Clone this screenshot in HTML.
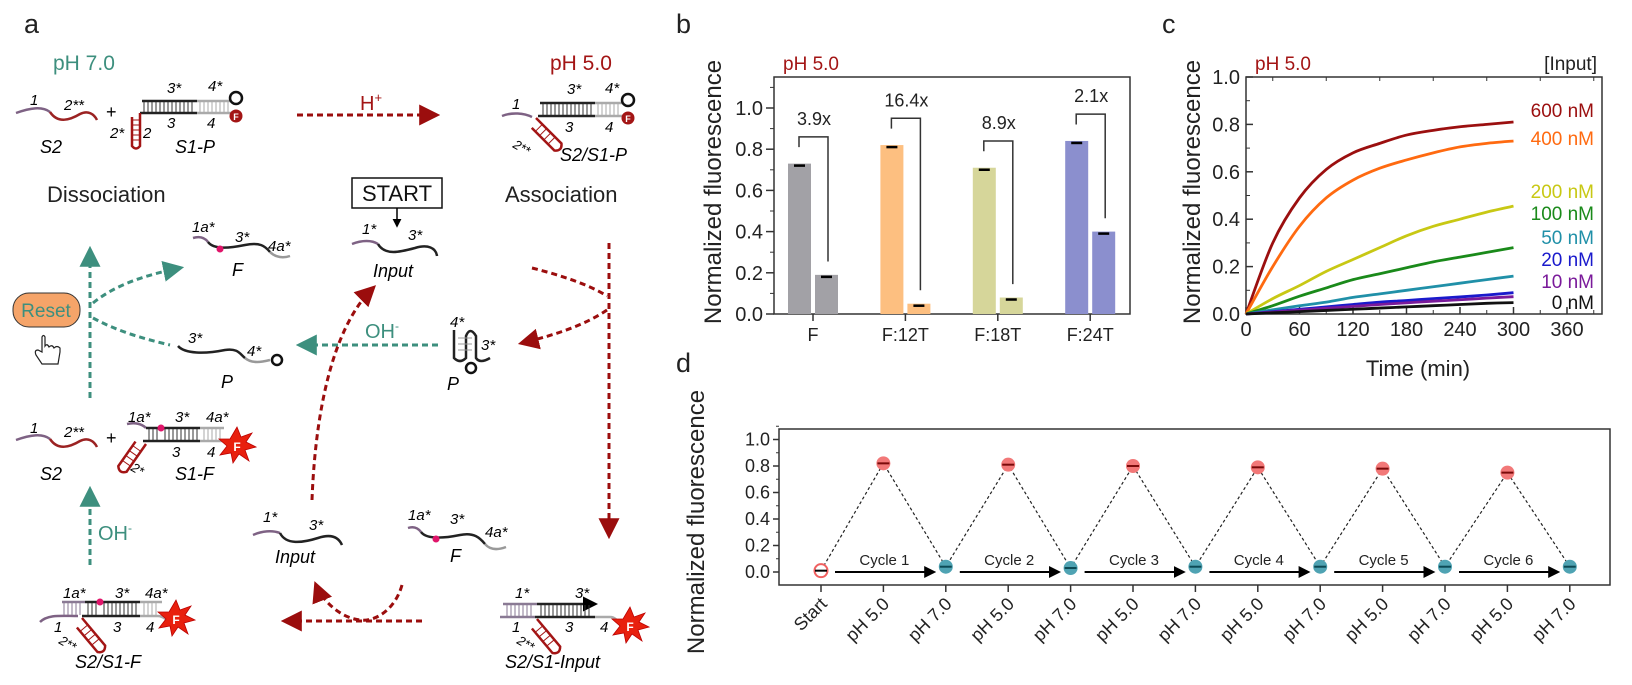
<!DOCTYPE html>
<html><head><meta charset="utf-8">
<style>
html,body{margin:0;padding:0;background:#fff;}
svg{display:block;font-family:"Liberation Sans",sans-serif;}
.it{font-style:italic;}
</style></head>
<body>
<svg id="fig" width="1632" height="685" viewBox="0 0 1632 685" xmlns="http://www.w3.org/2000/svg">
<defs>
<marker id="arR" viewBox="0 0 10 10" refX="8" refY="5" markerWidth="7" markerHeight="7" orient="auto"><path d="M0,0 L10,5 L0,10 z" fill="#9b0d0d"/></marker>
<marker id="arT" viewBox="0 0 10 10" refX="8" refY="5" markerWidth="7" markerHeight="7" orient="auto"><path d="M0,0 L10,5 L0,10 z" fill="#3d8f7e"/></marker>
<marker id="arK" viewBox="0 0 10 10" refX="8" refY="5" markerWidth="6" markerHeight="6" orient="auto"><path d="M0,0 L10,5 L0,10 z" fill="#000"/></marker>
</defs>

<!-- ================= PANEL A ================= -->
<g id="panel-a">
<text x="24" y="33" font-size="27" fill="#222">a</text>
<text x="53" y="70" font-size="21" fill="#3d8f7e">pH 7.0</text>
<text x="550" y="70" font-size="21" fill="#a31515">pH 5.0</text>

<g>
<path d="M16,113 C30,108 42,106 50,112" stroke="#7e6284" stroke-width="2.5" fill="none"/>
<path d="M50,112 C58,124 70,120 80,114 C88,110 94,114 97,120" stroke="#9b2222" stroke-width="2.5" fill="none"/>
<text x="30" y="105" font-size="15" class="it">1</text>
<text x="64" y="110" font-size="15" class="it">2**</text>
<text x="40" y="153" font-size="18" class="it">S2</text>
</g>
<text x="106" y="118" font-size="18">+</text>
<g>
<line x1="142" y1="101" x2="197" y2="101" stroke="#222" stroke-width="2.5"/>
<line x1="197" y1="101" x2="232" y2="101" stroke="#aaa" stroke-width="2.5"/>
<line x1="140" y1="113" x2="197" y2="113" stroke="#222" stroke-width="2.5"/>
<line x1="197" y1="113" x2="232" y2="113" stroke="#aaa" stroke-width="2.5"/>
<path d="M144,102 L144,112 M148,102 L148,112 M152,102 L152,112 M156,102 L156,112 M160,102 L160,112 M164,102 L164,112 M168,102 L168,112 M172,102 L172,112 M176,102 L176,112 M180,102 L180,112 M184,102 L184,112 M188,102 L188,112 M192,102 L192,112" stroke="#333" stroke-width="1"/>
<path d="M200,102 L200,112 M204,102 L204,112 M208,102 L208,112 M212,102 L212,112 M216,102 L216,112 M220,102 L220,112 M224,102 L224,112 M228,102 L228,112" stroke="#aaa" stroke-width="1"/>
<path d="M140,113 L140,146 Q136,151 132,146 L132,117" stroke="#a31515" stroke-width="2.5" fill="none"/>
<path d="M132,120 L140,120 M132,125 L140,125 M132,130 L140,130 M132,135 L140,135 M132,140 L140,140" stroke="#a31515" stroke-width="1"/>
<circle cx="236" cy="98" r="6" fill="#fff" stroke="#111" stroke-width="2.5"/>
<circle cx="236" cy="116" r="6.5" fill="#a31515"/>
<text x="236" y="120" font-size="9" fill="#fff" text-anchor="middle" font-weight="bold">F</text>
<text x="167" y="93" font-size="15" class="it">3*</text>
<text x="208" y="91" font-size="15" class="it">4*</text>
<text x="110" y="138" font-size="15" class="it">2*</text>
<text x="143" y="138" font-size="15" class="it">2</text>
<text x="167" y="128" font-size="15" class="it">3</text>
<text x="207" y="128" font-size="15" class="it">4</text>
<text x="175" y="153" font-size="18" class="it">S1-P</text>
</g>
<line x1="297" y1="115" x2="436" y2="115" stroke="#9b0d0d" stroke-width="3" stroke-dasharray="6,4" marker-end="url(#arR)"/>
<text x="360" y="110" font-size="20" fill="#a31515">H<tspan font-size="13" dy="-8">+</tspan></text>
<g>
<path d="M502,116 C512,112 524,113 532,117" stroke="#7e6284" stroke-width="2.5" fill="none"/>
<line x1="540" y1="103" x2="595" y2="103" stroke="#222" stroke-width="2.5"/>
<line x1="595" y1="103" x2="625" y2="103" stroke="#aaa" stroke-width="2.5"/>
<line x1="538" y1="116" x2="595" y2="116" stroke="#222" stroke-width="2.5"/>
<line x1="595" y1="116" x2="625" y2="116" stroke="#aaa" stroke-width="2.5"/>
<path d="M543,104 L543,115 M547,104 L547,115 M551,104 L551,115 M555,104 L555,115 M559,104 L559,115 M563,104 L563,115 M567,104 L567,115 M571,104 L571,115 M575,104 L575,115 M579,104 L579,115 M583,104 L583,115 M587,104 L587,115 M591,104 L591,115" stroke="#333" stroke-width="1"/>
<path d="M598,104 L598,115 M602,104 L602,115 M606,104 L606,115 M610,104 L610,115 M614,104 L614,115 M618,104 L618,115" stroke="#aaa" stroke-width="1"/>
<g transform="translate(536,118) rotate(-45)">
<path d="M0,0 L0,36 Q-5,42 -10,36 L-10,4" stroke="#a31515" stroke-width="2.5" fill="none"/>
<path d="M-10,9 L0,9 M-10,15 L0,15 M-10,21 L0,21 M-10,27 L0,27" stroke="#a31515" stroke-width="1"/>
</g>
<circle cx="628" cy="100" r="6" fill="#fff" stroke="#111" stroke-width="2.5"/>
<circle cx="628" cy="118" r="6.5" fill="#a31515"/>
<text x="628" y="122" font-size="9" fill="#fff" text-anchor="middle" font-weight="bold">F</text>
<text x="567" y="94" font-size="15" class="it">3*</text>
<text x="605" y="93" font-size="15" class="it">4*</text>
<text x="512" y="109" font-size="15" class="it">1</text>
<text x="565" y="132" font-size="15" class="it">3</text>
<text x="605" y="132" font-size="15" class="it">4</text>
<text x="512" y="147" font-size="13" class="it" transform="rotate(30 512 147)">2**</text>
<text x="560" y="161" font-size="18" class="it">S2/S1-P</text>
</g>
<text x="47" y="202" font-size="22" fill="#222">Dissociation</text>
<text x="505" y="202" font-size="22" fill="#222">Association</text>
<g>
<rect x="352" y="178" width="90" height="30" fill="#fff" stroke="#111" stroke-width="1.5"/>
<text x="397" y="201" font-size="22" text-anchor="middle" fill="#111">START</text>
</g>
<line x1="397" y1="208" x2="397" y2="226" stroke="#000" stroke-width="1.5" marker-end="url(#arK)"/>
<g>
<path d="M352,244 C362,240 372,240 378,244" stroke="#7e6284" stroke-width="2.5" fill="none"/>
<path d="M378,244 C385,256 400,252 415,248 C428,244 436,248 437,256" stroke="#222" stroke-width="2.5" fill="none"/>
<text x="362" y="234" font-size="15" class="it">1*</text>
<text x="408" y="240" font-size="15" class="it">3*</text>
<text x="373" y="277" font-size="18" class="it">Input</text>
</g>
<g>
<path d="M193,238 C200,236 205,238 208,242" stroke="#7e6284" stroke-width="2.5" fill="none"/>
<path d="M208,242 C214,250 230,248 245,245 C260,242 265,246 270,252" stroke="#222" stroke-width="2.5" fill="none"/>
<path d="M270,252 C276,258 284,258 290,256" stroke="#999" stroke-width="2.5" fill="none"/>
<circle cx="220" cy="249" r="3.5" fill="#e0156a"/>
<text x="192" y="232" font-size="15" class="it">1a*</text>
<text x="235" y="242" font-size="15" class="it">3*</text>
<text x="268" y="251" font-size="15" class="it">4a*</text>
<text x="232" y="276" font-size="18" class="it">F</text>
</g>
<g>
<rect x="13" y="293" width="67" height="34" rx="16" fill="#f5a469" stroke="#333" stroke-width="1"/>
<text x="46" y="317" font-size="19" text-anchor="middle" fill="#3d8f7e">Reset</text>
</g>
<g fill="#fff" stroke="#222" stroke-width="1.2">
<path d="M42,337 L42,352 L38,350 Q34,350 36,355 L42,364 L58,364 L60,352 L60,348 Q57,345 54,348 Q52,344 49,347 Q47,343 45,346 L45,337 Q43.5,334 42,337 Z"/>
</g>
<line x1="90" y1="398" x2="90" y2="250" stroke="#3d8f7e" stroke-width="3" stroke-dasharray="6,4" marker-end="url(#arT)"/>
<path d="M93,303 C115,285 145,275 180,268" stroke="#3d8f7e" stroke-width="3" stroke-dasharray="6,4" fill="none" marker-end="url(#arT)"/>
<path d="M93,318 C115,330 140,338 170,345" stroke="#3d8f7e" stroke-width="3" stroke-dasharray="6,4" fill="none"/>
<line x1="438" y1="345" x2="300" y2="345" stroke="#3d8f7e" stroke-width="3" stroke-dasharray="6,4" marker-end="url(#arT)"/>
<text x="365" y="338" font-size="20" fill="#3d8f7e">OH<tspan font-size="12" dy="-8">-</tspan></text>
<line x1="90" y1="565" x2="90" y2="490" stroke="#3d8f7e" stroke-width="3" stroke-dasharray="6,4" marker-end="url(#arT)"/>
<text x="98" y="540" font-size="20" fill="#3d8f7e">OH<tspan font-size="12" dy="-8">-</tspan></text>
<g>
<path d="M178,346 C185,354 205,354 225,350 C238,348 240,354 245,358" stroke="#222" stroke-width="2.5" fill="none"/>
<path d="M245,358 C252,364 262,362 270,360" stroke="#999" stroke-width="2.5" fill="none"/>
<circle cx="277" cy="360" r="5" fill="#fff" stroke="#111" stroke-width="2.5"/>
<text x="188" y="343" font-size="15" class="it">3*</text>
<text x="247" y="356" font-size="15" class="it">4*</text>
<text x="221" y="388" font-size="18" class="it">P</text>
</g>
<g>
<path d="M454,330 L454,358 Q460,364 466,358 L466,336 Q470,326 476,336 L476,358 Q480,364 490,358" stroke="#222" stroke-width="2.5" fill="none"/>
<path d="M458,338 L472,338 M458,344 L472,344 M458,350 L472,350" stroke="#999" stroke-width="1"/>
<circle cx="471" cy="368" r="5" fill="#fff" stroke="#111" stroke-width="2.5"/>
<text x="450" y="327" font-size="15" class="it">4*</text>
<text x="481" y="350" font-size="15" class="it">3*</text>
<text x="447" y="390" font-size="18" class="it">P</text>
</g>
<line x1="609" y1="243" x2="609" y2="535" stroke="#9b0d0d" stroke-width="3" stroke-dasharray="6,4" marker-end="url(#arR)"/>
<path d="M532,268 C560,275 590,285 607,296" stroke="#9b0d0d" stroke-width="3" stroke-dasharray="6,4" fill="none"/>
<path d="M607,310 C585,325 555,335 522,343" stroke="#9b0d0d" stroke-width="3" stroke-dasharray="6,4" fill="none" marker-end="url(#arR)"/>
<path d="M312,500 C315,420 330,330 373,288" stroke="#9b0d0d" stroke-width="3" stroke-dasharray="6,4" fill="none" marker-end="url(#arR)"/>
<line x1="422" y1="621" x2="285" y2="621" stroke="#9b0d0d" stroke-width="3" stroke-dasharray="6,4" marker-end="url(#arR)"/>
<path d="M402,585 C395,610 375,622 360,620 C340,618 322,600 316,585" stroke="#9b0d0d" stroke-width="3" stroke-dasharray="6,4" fill="none" marker-end="url(#arR)"/>
<g>
<path d="M16,440 C30,435 42,433 50,439" stroke="#7e6284" stroke-width="2.5" fill="none"/>
<path d="M50,439 C58,451 70,447 80,441 C88,437 94,441 97,447" stroke="#9b2222" stroke-width="2.5" fill="none"/>
<text x="30" y="433" font-size="15" class="it">1</text>
<text x="64" y="437" font-size="15" class="it">2**</text>
<text x="40" y="480" font-size="18" class="it">S2</text>
</g>
<text x="106" y="444" font-size="18">+</text>
<g>
<path d="M127,424 C135,422 142,424 146,428" stroke="#7e6284" stroke-width="2.5" fill="none"/>
<line x1="146" y1="428" x2="200" y2="428" stroke="#222" stroke-width="2.5"/>
<line x1="200" y1="428" x2="224" y2="428" stroke="#aaa" stroke-width="2.5"/>
<line x1="143" y1="441" x2="200" y2="441" stroke="#222" stroke-width="2.5"/>
<line x1="200" y1="441" x2="225" y2="441" stroke="#aaa" stroke-width="2.5"/>
<path d="M149,429 L149,440 M153,429 L153,440 M157,429 L157,440 M165,429 L165,440 M169,429 L169,440 M173,429 L173,440 M177,429 L177,440 M181,429 L181,440 M185,429 L185,440 M189,429 L189,440 M193,429 L193,440 M197,429 L197,440" stroke="#333" stroke-width="1"/>
<path d="M204,429 L204,440 M208,429 L208,440 M212,429 L212,440 M216,429 L216,440 M220,429 L220,440" stroke="#aaa" stroke-width="1"/>
<circle cx="161" cy="428" r="3.5" fill="#e0156a"/>
<g transform="translate(146,444) rotate(35)">
<path d="M0,0 L0,34 Q-5,40 -10,34 L-10,4" stroke="#a31515" stroke-width="2.5" fill="none"/>
<path d="M-10,9 L0,9 M-10,15 L0,15 M-10,21 L0,21 M-10,27 L0,27" stroke="#a31515" stroke-width="1"/>
</g>
<polygon points="237,427 241,437 252,433 246,442 256,447 245,450 249,461 239,454 233,463 231,453 220,455 227,446 219,439 230,439" fill="#e8200e" stroke="#b00" stroke-width="0.8"/>
<text x="237" y="451" font-size="12" fill="#fff" text-anchor="middle" font-weight="bold">F</text>
<text x="128" y="422" font-size="15" class="it">1a*</text>
<text x="175" y="422" font-size="15" class="it">3*</text>
<text x="206" y="422" font-size="15" class="it">4a*</text>
<text x="172" y="457" font-size="15" class="it">3</text>
<text x="207" y="457" font-size="15" class="it">4</text>
<text x="130" y="470" font-size="13" class="it" transform="rotate(30 130 470)">2*</text>
<text x="175" y="480" font-size="18" class="it">S1-F</text>
</g>
<g>
<line x1="62" y1="602" x2="85" y2="602" stroke="#8a7a94" stroke-width="2.5"/>
<line x1="85" y1="602" x2="140" y2="602" stroke="#222" stroke-width="2.5"/>
<line x1="140" y1="602" x2="162" y2="602" stroke="#aaa" stroke-width="2.5"/>
<path d="M40,622 C48,614 62,616 78,616" stroke="#7e6284" stroke-width="2.5" fill="none"/>
<line x1="82" y1="616" x2="140" y2="616" stroke="#222" stroke-width="2.5"/>
<path d="M140,616 L158,616 C162,616 164,618 167,620" stroke="#aaa" stroke-width="2.5" fill="none"/>
<path d="M64,603 L64,615 M68,603 L68,615 M72,603 L72,615 M76,603 L76,615 M80,603 L80,615" stroke="#8a7a94" stroke-width="1"/>
<path d="M88,603 L88,615 M92,603 L92,615 M96,603 L96,615 M104,603 L104,615 M108,603 L108,615 M112,603 L112,615 M116,603 L116,615 M120,603 L120,615 M124,603 L124,615 M128,603 L128,615 M132,603 L132,615 M136,603 L136,615" stroke="#333" stroke-width="1"/>
<path d="M144,603 L144,615 M148,603 L148,615 M152,603 L152,615 M156,603 L156,615" stroke="#aaa" stroke-width="1"/>
<circle cx="100" cy="602" r="3.5" fill="#e0156a"/>
<g transform="translate(82,618) rotate(-40)">
<path d="M0,0 L0,36 Q-5,42 -10,36 L-10,4" stroke="#a31515" stroke-width="2.5" fill="none"/>
<path d="M-10,9 L0,9 M-10,15 L0,15 M-10,21 L0,21 M-10,27 L0,27" stroke="#a31515" stroke-width="1"/>
</g>
<polygon points="176,600 180,610 191,606 185,615 195,620 184,623 188,634 178,627 172,636 170,626 159,628 166,619 158,612 169,612" fill="#e8200e" stroke="#b00" stroke-width="0.8"/>
<text x="176" y="624" font-size="12" fill="#fff" text-anchor="middle" font-weight="bold">F</text>
<text x="63" y="598" font-size="15" class="it">1a*</text>
<text x="115" y="598" font-size="15" class="it">3*</text>
<text x="145" y="598" font-size="15" class="it">4a*</text>
<text x="54" y="632" font-size="15" class="it">1</text>
<text x="113" y="632" font-size="15" class="it">3</text>
<text x="146" y="632" font-size="15" class="it">4</text>
<text x="58" y="643" font-size="13" class="it" transform="rotate(30 58 643)">2**</text>
<text x="75" y="668" font-size="18" class="it">S2/S1-F</text>
</g>
<g>
<path d="M253,535 C262,531 272,530 280,533" stroke="#7e6284" stroke-width="2.5" fill="none"/>
<path d="M280,533 C286,545 302,543 318,538 C330,534 338,536 342,545" stroke="#222" stroke-width="2.5" fill="none"/>
<text x="263" y="522" font-size="15" class="it">1*</text>
<text x="309" y="530" font-size="15" class="it">3*</text>
<text x="275" y="563" font-size="18" class="it">Input</text>
</g>
<g>
<path d="M408,528 C414,526 418,528 421,532" stroke="#7e6284" stroke-width="2.5" fill="none"/>
<path d="M421,532 C427,540 445,538 460,535 C474,532 480,538 485,544" stroke="#222" stroke-width="2.5" fill="none"/>
<path d="M485,544 C490,550 498,550 506,547" stroke="#999" stroke-width="2.5" fill="none"/>
<circle cx="436" cy="539" r="3.5" fill="#e0156a"/>
<text x="408" y="520" font-size="15" class="it">1a*</text>
<text x="450" y="524" font-size="15" class="it">3*</text>
<text x="485" y="537" font-size="15" class="it">4a*</text>
<text x="450" y="562" font-size="18" class="it">F</text>
</g>
<g>
<line x1="503" y1="604" x2="537" y2="604" stroke="#8a7a94" stroke-width="2.5"/>
<line x1="537" y1="604" x2="595" y2="604" stroke="#222" stroke-width="2.5" marker-end="url(#arK)"/>
<line x1="500" y1="617" x2="535" y2="617" stroke="#8a7a94" stroke-width="2.5" />
<line x1="535" y1="617" x2="595" y2="617" stroke="#222" stroke-width="2.5"/>
<path d="M595,617 L610,617 C616,617 618,622 622,628" stroke="#aaa" stroke-width="2.5" fill="none"/>
<path d="M507,605 L507,616 M511,605 L511,616 M515,605 L515,616 M519,605 L519,616 M523,605 L523,616 M527,605 L527,616 M531,605 L531,616" stroke="#8a7a94" stroke-width="1"/>
<path d="M541,605 L541,616 M545,605 L545,616 M549,605 L549,616 M553,605 L553,616 M557,605 L557,616 M561,605 L561,616 M565,605 L565,616 M569,605 L569,616 M573,605 L573,616 M577,605 L577,616 M581,605 L581,616 M585,605 L585,616 M589,605 L589,616" stroke="#333" stroke-width="1"/>
<g transform="translate(537,619) rotate(-40)">
<path d="M0,0 L0,36 Q-5,42 -10,36 L-10,4" stroke="#a31515" stroke-width="2.5" fill="none"/>
<path d="M-10,9 L0,9 M-10,15 L0,15 M-10,21 L0,21 M-10,27 L0,27" stroke="#a31515" stroke-width="1"/>
</g>
<polygon points="630,607 634,617 645,613 639,622 649,627 638,630 642,641 632,634 626,643 624,633 613,635 620,626 612,619 623,619" fill="#e8200e" stroke="#b00" stroke-width="0.8"/>
<text x="630" y="631" font-size="12" fill="#fff" text-anchor="middle" font-weight="bold">F</text>
<text x="515" y="598" font-size="15" class="it">1*</text>
<text x="575" y="598" font-size="15" class="it">3*</text>
<text x="512" y="632" font-size="15" class="it">1</text>
<text x="565" y="632" font-size="15" class="it">3</text>
<text x="600" y="632" font-size="15" class="it">4</text>
<text x="516" y="643" font-size="13" class="it" transform="rotate(30 516 643)">2**</text>
<text x="505" y="668" font-size="18" class="it">S2/S1-Input</text>
</g>
</g>

<text x="676" y="33" font-size="27" fill="#222">b</text>
<text x="1162" y="33" font-size="27" fill="#222">c</text>
<text x="676" y="372" font-size="27" fill="#222">d</text>

<g id="panel-b"></g>
<g id="panel-c"></g>
<g id="panel-d"></g>
</svg>

<script>
// ---------- Panel b data ----------
const bCategories = ['F', 'F:12T', 'F:18T', 'F:24T'];
const bHighValues = [0.73, 0.82, 0.71, 0.84];
const bLowValues = [0.19, 0.05, 0.08, 0.40];
const bFoldLabels = ['3.9x', '16.4x', '8.9x', '2.1x'];
const bYTicks = [0, 0.2, 0.4, 0.6, 0.8, 1.0];

// ---------- Panel c data ----------
const cTimes = [0, 30, 60, 90, 120, 150, 180, 210, 240, 270, 300];
const cSeriesNames = ['600 nM', '400 nM', '200 nM', '100 nM', '50 nM', '20 nM', '10 nM', '0 nM'];
const c600 = [0, 0.30, 0.49, 0.61, 0.68, 0.72, 0.755, 0.775, 0.79, 0.80, 0.81];
const c400 = [0, 0.20, 0.37, 0.49, 0.565, 0.615, 0.65, 0.68, 0.705, 0.72, 0.73];
const c200 = [0, 0.065, 0.12, 0.18, 0.23, 0.28, 0.33, 0.37, 0.40, 0.43, 0.455];
const c100 = [0, 0.035, 0.075, 0.11, 0.145, 0.17, 0.195, 0.22, 0.24, 0.26, 0.28];
const c50 = [0, 0.018, 0.035, 0.05, 0.07, 0.085, 0.10, 0.115, 0.13, 0.145, 0.16];
const c20 = [0, 0.01, 0.02, 0.03, 0.04, 0.05, 0.057, 0.065, 0.072, 0.08, 0.09];
const c10 = [0, 0.008, 0.016, 0.024, 0.032, 0.04, 0.047, 0.054, 0.06, 0.067, 0.073];
const c0 = [0, 0.005, 0.01, 0.015, 0.02, 0.025, 0.03, 0.035, 0.04, 0.045, 0.048];
const cXTicks = [0, 60, 120, 180, 240, 300, 360];
const cYTicks = [0, 0.2, 0.4, 0.6, 0.8, 1.0];

// ---------- Panel d data ----------
const dLabels = ['Start', 'pH 5.0', 'pH 7.0', 'pH 5.0', 'pH 7.0', 'pH 5.0', 'pH 7.0', 'pH 5.0', 'pH 7.0', 'pH 5.0', 'pH 7.0', 'pH 5.0', 'pH 7.0'];
const dValues = [0.01, 0.82, 0.04, 0.81, 0.03, 0.80, 0.04, 0.79, 0.04, 0.78, 0.04, 0.75, 0.04];
const dCycles = ['Cycle 1', 'Cycle 2', 'Cycle 3', 'Cycle 4', 'Cycle 5', 'Cycle 6'];
const dYTicks = [0, 0.2, 0.4, 0.6, 0.8, 1.0];

const NS = 'http://www.w3.org/2000/svg';
function mk(parent, tag, attrs, text) {
  const e = document.createElementNS(NS, tag);
  for (const k in attrs) e.setAttribute(k, attrs[k]);
  if (text !== undefined) e.textContent = text;
  parent.appendChild(e);
  return e;
}

// ================= Panel b =================
(function () {
  const g = document.getElementById('panel-b');
  const L = 774, R = 1130, T = 77, B = 314;
  const yB = v => B - v * 206;
  const xB = i => 813 + i * 92.4;
  const hiColors = ['#a2a1a6', '#fdbf80', '#d6d69a', '#8b8fce'];
  let e;
  e = mk(g, 'rect', { x: L, y: T, width: R - L, height: B - T, fill: 'none', stroke: '#333', 'stroke-width': 1.5 });
  
  
  e = mk(g, 'text', { x: 783, y: 70, 'font-size': 19, fill: '#a31515' }, 'pH 5.0');
  
  
  e = mk(g, 'text', { x: 0, y: 0, 'font-size': 24, fill: '#222', 'text-anchor': 'middle', transform: 'translate(721,192) rotate(-90)' }, 'Normalized fluorescence');
  
  
  bYTicks.forEach(v => {
    const y = yB(v);
    mk(g, 'line', { x1: L - 8, y1: y, x2: L, y2: y, stroke: '#333', 'stroke-width': 1.5 });
    e = mk(g, 'text', { x: L - 11, y: y + 7, 'font-size': 20, 'text-anchor': 'end', fill: '#222' }, v.toFixed(1));
    
    
  });
  for (let v = 0.1; v < 1.1; v += 0.2) mk(g, 'line', { x1: L - 4, y1: yB(v), x2: L, y2: yB(v), stroke: '#333', 'stroke-width': 1 });
  bCategories.forEach((c, i) => {
    const cx = xB(i);
    e = mk(g, 'rect', { x: cx - 25, y: yB(bHighValues[i]), width: 23, height: B - yB(bHighValues[i]), fill: hiColors[i] });
    
    
    e = mk(g, 'rect', { x: cx + 2, y: yB(bLowValues[i]), width: 23, height: B - yB(bLowValues[i]), fill: hiColors[i] });
    
    
    mk(g, 'line', { x1: cx - 19, y1: yB(bHighValues[i]) + 2, x2: cx - 8, y2: yB(bHighValues[i]) + 2, stroke: '#000', 'stroke-width': 2.5 });
    mk(g, 'line', { x1: cx + 8, y1: yB(bLowValues[i]) + 2, x2: cx + 19, y2: yB(bLowValues[i]) + 2, stroke: '#000', 'stroke-width': 2.5 });
    const yl = yB(bHighValues[i] + 0.08), yt = yB(bHighValues[i] + 0.13), yr = yB(bLowValues[i] + 0.065);
    e = mk(g, 'path', { d: `M${cx - 14},${yl} L${cx - 14},${yt} L${cx + 15},${yt} L${cx + 15},${yr}`, fill: 'none', stroke: '#333', 'stroke-width': 1.5 });
    
    
    e = mk(g, 'text', { x: cx + 1, y: yt - 12, 'font-size': 18, 'text-anchor': 'middle', fill: '#222' }, bFoldLabels[i]);
    
    
    mk(g, 'line', { x1: cx, y1: B, x2: cx, y2: B + 7, stroke: '#333', 'stroke-width': 1.5 });
    e = mk(g, 'text', { x: cx, y: B + 27, 'font-size': 18, 'text-anchor': 'middle', fill: '#222' }, c);
    
    
  });
})();

// ================= Panel c =================
(function () {
  const g = document.getElementById('panel-c');
  const L = 1246, R = 1602, T = 77, B = 314;
  const xC = t => L + t * (321 / 360);
  const yC = v => B - v * 237;
  const series = [c600, c400, c200, c100, c50, c20, c10, c0];
  const colors = ['#9b0f0f', '#ff6a10', '#c8c814', '#1a8a1a', '#2090a8', '#1a1acc', '#7a1a9a', '#111111'];
  const labelY = [110, 138, 191, 213, 237, 259, 281, 302];
  let e;
  e = mk(g, 'rect', { x: L, y: T, width: R - L, height: B - T, fill: 'none', stroke: '#333', 'stroke-width': 1.5 });
  
  
  e = mk(g, 'text', { x: 1255, y: 70, 'font-size': 19, fill: '#a31515' }, 'pH 5.0');
  
  
  e = mk(g, 'text', { x: 1597, y: 70, 'font-size': 19, fill: '#222', 'text-anchor': 'end' }, '[Input]');
  
  
  e = mk(g, 'text', { x: 0, y: 0, 'font-size': 24, fill: '#222', 'text-anchor': 'middle', transform: 'translate(1200,192) rotate(-90)' }, 'Normalized fluorescence');
  
  
  e = mk(g, 'text', { x: 1418, y: 376, 'font-size': 22, fill: '#222', 'text-anchor': 'middle' }, 'Time (min)');
  
  
  cYTicks.forEach(v => {
    mk(g, 'line', { x1: L, y1: yC(v), x2: L + 7, y2: yC(v), stroke: '#333', 'stroke-width': 1.5 });
    e = mk(g, 'text', { x: L - 6, y: yC(v) + 7, 'font-size': 20, 'text-anchor': 'end', fill: '#222' }, v.toFixed(1));
    
    
  });
  for (let v = 0.1; v < 1.0; v += 0.2) mk(g, 'line', { x1: L, y1: yC(v), x2: L + 4, y2: yC(v), stroke: '#333', 'stroke-width': 1 });
  for (let t = 30; t < 400; t += 60) { mk(g, 'line', { x1: xC(t), y1: B, x2: xC(t), y2: B - 4, stroke: '#333', 'stroke-width': 1 }); mk(g, 'line', { x1: xC(t), y1: T, x2: xC(t), y2: T + 4, stroke: '#333', 'stroke-width': 1 }); }
  cXTicks.forEach(t => {
    mk(g, 'line', { x1: xC(t), y1: B, x2: xC(t), y2: B - 7, stroke: '#333', 'stroke-width': 1.5 });
    e = mk(g, 'text', { x: xC(t), y: B + 22, 'font-size': 20, 'text-anchor': 'middle', fill: '#222' }, String(t));
    
    
  });
  series.forEach((s, k) => {
    const pts = s.map((v, i) => [xC(cTimes[i]), yC(v)]);
    let d = 'M' + pts[0][0] + ',' + pts[0][1];
    for (let i = 0; i < pts.length - 1; i++) {
      const p0 = pts[Math.max(0, i - 1)], p1 = pts[i], p2 = pts[i + 1], p3 = pts[Math.min(pts.length - 1, i + 2)];
      const c1x = p1[0] + (p2[0] - p0[0]) / 6, c1y = p1[1] + (p2[1] - p0[1]) / 6;
      const c2x = p2[0] - (p3[0] - p1[0]) / 6, c2y = p2[1] - (p3[1] - p1[1]) / 6;
      d += ` C${c1x},${c1y} ${c2x},${c2y} ${p2[0]},${p2[1]}`;
    }
    e = mk(g, 'path', { d: d, fill: 'none', stroke: colors[k], 'stroke-width': 2.8 });
    
    
    e = mk(g, 'text', { x: 1594, y: labelY[k] + 7, 'font-size': 19, fill: colors[k], 'text-anchor': 'end' }, cSeriesNames[k]);
    
    
  });
})();

// ================= Panel d =================
(function () {
  const g = document.getElementById('panel-d');
  const L = 779, R = 1610, T = 429, B = 585;
  const xD = i => 821 + i * 62.4;
  const yD = v => 572 - v * 132.5;
  let e;
  e = mk(g, 'rect', { x: L, y: T, width: R - L, height: B - T, fill: 'none', stroke: '#333', 'stroke-width': 1.5 });
  
  
  e = mk(g, 'text', { x: 0, y: 0, 'font-size': 24, fill: '#222', 'text-anchor': 'middle', transform: 'translate(704,522) rotate(-90)' }, 'Normalized fluorescence');
  
  
  dYTicks.forEach(v => {
    mk(g, 'line', { x1: L - 6, y1: yD(v), x2: L, y2: yD(v), stroke: '#333', 'stroke-width': 1.5 });
    e = mk(g, 'text', { x: L - 9, y: yD(v) + 6, 'font-size': 18, 'text-anchor': 'end', fill: '#222' }, v.toFixed(1));
    
    
  });
  for (let v = 0.1; v < 1.1; v += 0.2) mk(g, 'line', { x1: L - 3, y1: yD(v), x2: L, y2: yD(v), stroke: '#333', 'stroke-width': 1 });
  let d = '';
  dValues.forEach((v, i) => { d += (i ? ' L' : 'M') + xD(i) + ',' + yD(v); });
  e = mk(g, 'path', { d: d, fill: 'none', stroke: '#222', 'stroke-width': 1.2, 'stroke-dasharray': '3,2.5' });
  
  
  dCycles.forEach((c, k) => {
    const x1 = xD(2 * k) + 14, x2 = xD(2 * k + 2) - 12;
    e = mk(g, 'line', { x1: x1, y1: 572, x2: x2, y2: 572, stroke: '#000', 'stroke-width': 2, 'marker-end': 'url(#arK)' });
    
    
    e = mk(g, 'text', { x: (x1 + x2) / 2, y: 565, 'font-size': 15, 'text-anchor': 'middle', fill: '#222' }, c);
    
    
  });
  dLabels.forEach((lab, i) => {
    const x = xD(i), y = yD(dValues[i]);
    mk(g, 'line', { x1: x, y1: B, x2: x, y2: B + 7, stroke: '#333', 'stroke-width': 1.5 });
    if (lab === 'Start') {
      e = mk(g, 'circle', { cx: x, cy: y, r: 6.5, fill: '#fff', stroke: '#f06060', 'stroke-width': 2 });
    } else if (lab === 'pH 5.0') {
      e = mk(g, 'circle', { cx: x, cy: y, r: 7, fill: '#f27878' });
    } else {
      e = mk(g, 'circle', { cx: x, cy: y, r: 7, fill: '#4fa3b3' });
    }
    
    
    mk(g, 'line', { x1: x - 6, y1: y, x2: x + 6, y2: y, stroke: lab === 'pH 5.0' ? '#7a0a0a' : (lab === 'Start' ? '#000' : '#0d4a55'), 'stroke-width': 2 });
    e = mk(g, 'text', { x: 0, y: 0, 'font-size': 18, 'text-anchor': 'end', fill: '#222', transform: `translate(${x + 7},${B + 20}) rotate(-45)` }, lab);
    
    
  });
})();
</script>
</body></html>
